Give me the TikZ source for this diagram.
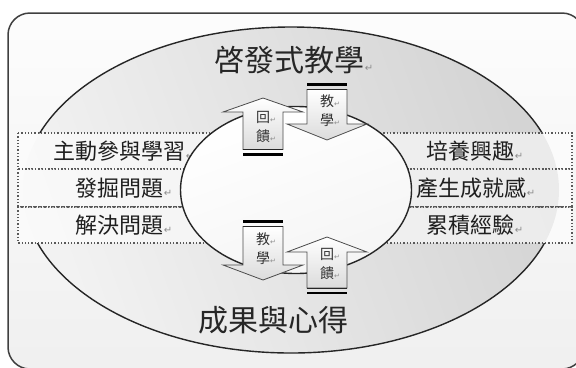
\documentclass[tikz,border=0pt]{standalone}
\usepackage{fontspec}
\newfontfamily\cjk{Noto Sans CJK TC}
\newfontfamily\dvs{DejaVu Sans}
\newcommand\retmk[1]{{\dvs\fontsize{#1}{#1}\selectfont\color{black!45}↵}}
\tikzset{
  rowbox/.style={draw=black!65, line width=1.3bp, dotted, fill=white, fill opacity=0.55},
  rowtext/.style={font=\cjk\fontsize{22bp}{24bp}\selectfont, text=black!88, inner sep=0pt},
  titletext/.style={font=\cjk\fontsize{30bp}{32bp}\selectfont, text=black!85, inner sep=0pt},
  arrowshape/.style={draw=black!70, line width=0.8bp, top color=white, bottom color=black!14},
  arrowtext/.style={font=\cjk\fontsize{14bp}{19bp}\selectfont, text=black!80, inner sep=0pt, align=center},
  thinbar/.style={draw=black!85, line width=0.8bp},
  thickbar/.style={draw=black, line width=2.6bp}
}
\begin{document}
\begin{tikzpicture}[x=1bp,y=-1bp]
\useasboundingbox (0,0) rectangle (576,367);
\begin{scope}
\clip (0,0) rectangle (576,367);
% background panel
\shade[draw=black!75, line width=1.5bp, rounded corners=22bp, top color=black!1, bottom color=black!6] (8,13) rectangle (584,369);
% outer ring fill
\shade[left color=black!5, right color=black!17, shading angle=110] (291,190) ellipse [x radius=268, y radius=163];
% outer ellipse outline outside the rows
\begin{scope}
\clip (0,0) rectangle (576,133);
\draw[black!85, line width=1.4bp] (291,190) ellipse [x radius=268, y radius=163];
\end{scope}
\begin{scope}
\clip (0,243) rectangle (576,367);
\draw[black!85, line width=1.4bp] (291,190) ellipse [x radius=268, y radius=163];
\end{scope}
% rows
\draw[rowbox] (18,133) rectangle (572,169);
\draw[rowbox] (18,169) rectangle (572,207);
\draw[rowbox] (18,207) rectangle (572,243);
\node[rowtext] (l1) at (124,151) {主動參與學習\retmk{10bp}};
\node[rowtext] (l2) at (124,188) {發掘問題\retmk{10bp}};
\node[rowtext] (l3) at (124,225) {解決問題\retmk{10bp}};
\node[rowtext] (r1) at (475,151) {培養興趣\retmk{10bp}};
\node[rowtext] (r2) at (476,188) {產生成就感\retmk{10bp}};
\node[rowtext] (r3) at (475,225) {累積經驗\retmk{10bp}};
% inner ellipse
\shade[draw=black!85, line width=1.4bp, top color=white, bottom color=black!4, shading angle=20] (296,190) ellipse [x radius=115.5, y radius=83.5];
% arrows: top-left up (feedback)
\draw[arrowshape] (243,149.5) -- (243,112) -- (223,112) -- (263,98) -- (303,112) -- (283,112) -- (283,149.5) -- cycle;
\draw[thinbar] (243,149.5) -- (283,149.5);
\draw[thickbar] (243,154.5) -- (283,154.5);
% top-right down (teaching)
\draw[arrowshape] (307,89.5) -- (307,124) -- (287,124) -- (327,140) -- (367,124) -- (347,124) -- (347,89.5) -- cycle;
\draw[thinbar] (307,89.5) -- (347,89.5);
\draw[thickbar] (307,84.5) -- (347,84.5);
% bottom-left down (teaching)
\draw[arrowshape] (243,226.5) -- (243,265) -- (223,265) -- (263,280) -- (303,265) -- (283,265) -- (283,226.5) -- cycle;
\draw[thinbar] (243,226.5) -- (283,226.5);
\draw[thickbar] (243,221.5) -- (283,221.5);
% bottom-right up (feedback)
\draw[arrowshape] (307,288) -- (307,252) -- (287,252) -- (327,237) -- (367,252) -- (347,252) -- (347,288) -- cycle;
\draw[thinbar] (307,288) -- (347,288);
\draw[thickbar] (307,293) -- (347,293);
% arrow labels
\node[arrowtext] (fb1) at (266,127) {回\retmk{7bp}\\饋\retmk{7bp}};
\node[arrowtext] (te1) at (330,111) {教\retmk{7bp}\\學\retmk{7bp}};
\node[arrowtext] (te2) at (266,249) {教\retmk{7bp}\\學\retmk{7bp}};
\node[arrowtext] (fb2) at (330,264) {回\retmk{7bp}\\饋\retmk{7bp}};
% titles
\node[titletext] (top) at (294,60) {啓發式教學\retmk{10bp}};
\node[titletext] (bottom) at (273,320) {成果與心得};
\end{scope}
\end{tikzpicture}
\end{document}
